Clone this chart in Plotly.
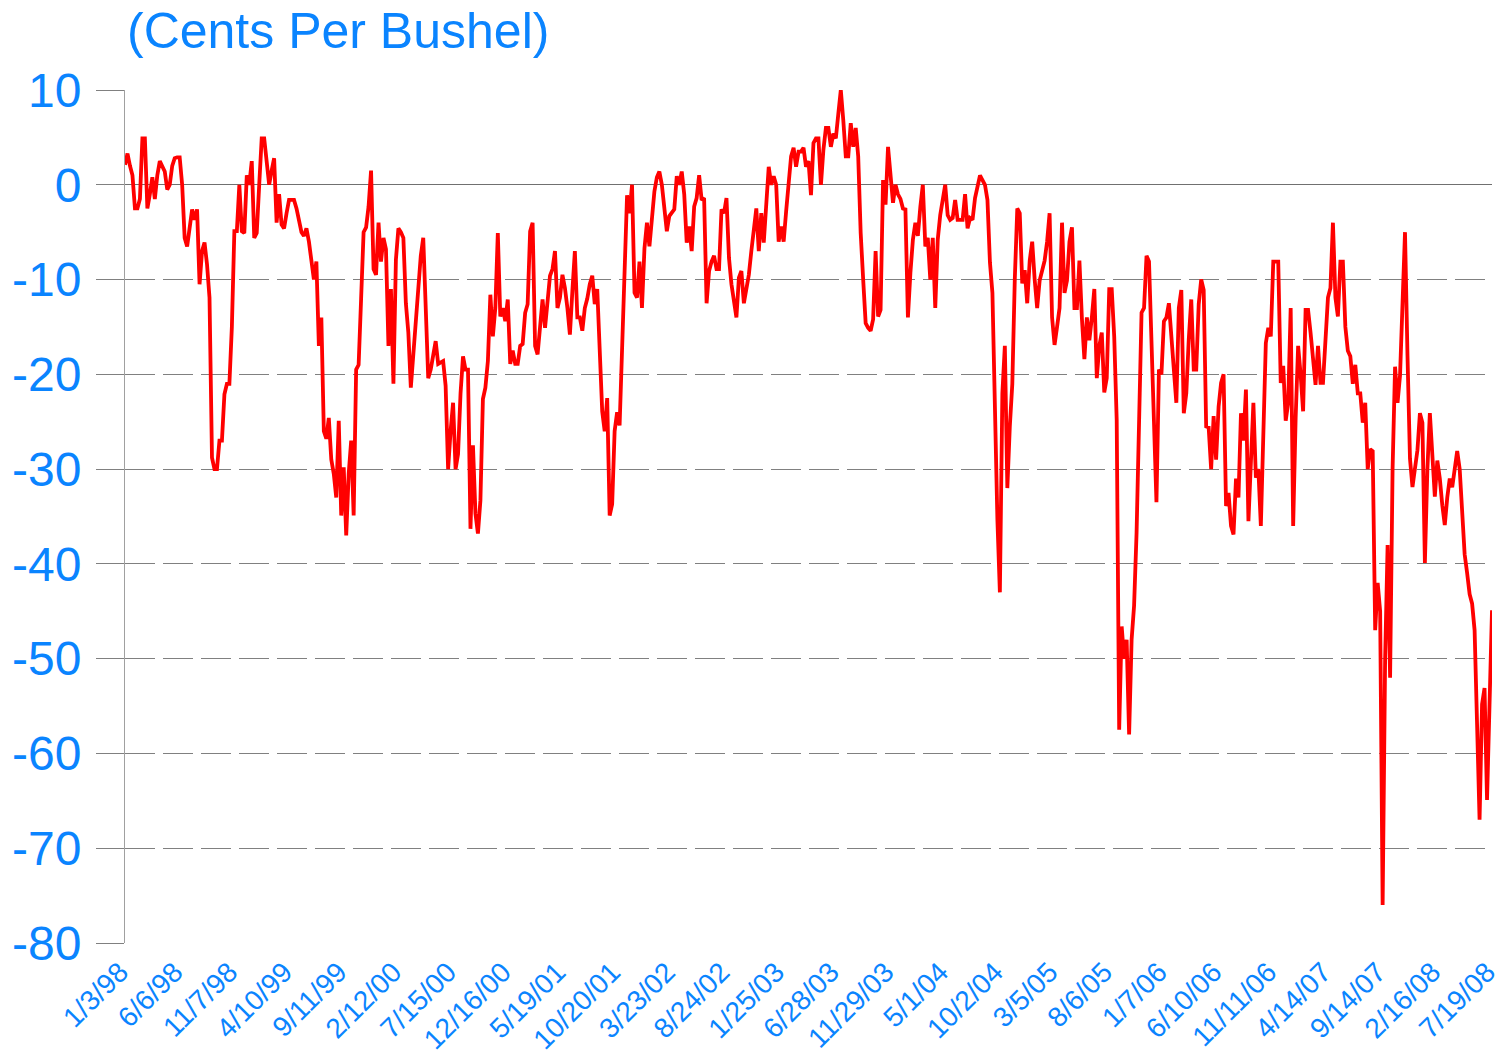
import plotly.graph_objects as go

# Weekly values (cents per bushel), week index 0 = 1/3/98
values = [
    2.1, 3.3, 2, 1, -2.5, -2.5, -1.5, 4.9, 4.9, -2.5,
    -1, 0.8, -1.5, 1, 2.5, 2, 1.4, -0.5, 0, 2,
    2.8, 2.9, 2.9, 0, -5.6, -6.5, -4.2, -2.6, -3.7, -2.6,
    -10.5, -7, -6.1, -8.4, -11.9, -28.8, -30, -30, -27, -27,
    -22.1, -21, -21, -15, -4.9, -4.9, 0, -4.9, -5.1, 1,
    0, 2.5, -5.6, -5.1, 0, 4.9, 4.9, 2, 0, 1.5,
    2.8, -4, -1, -4.2, -4.6, -3, -1.6, -1.6, -1.6, -2.5,
    -3.7, -5, -5.4, -4.6, -6, -8, -10, -8.1, -17, -14,
    -26, -26.8, -24.6, -29, -30.5, -33, -24.9, -34.9, -29.8, -37,
    -30.5, -27, -34.9, -19.5, -19, -12, -5, -4.5, -2.3, 1.5,
    -8.9, -9.5, -4, -8.1, -5.6, -6.8, -17, -11, -21, -7.9,
    -4.6, -5, -5.6, -12.5, -15.6, -21.4, -17.7, -14, -10, -7.5,
    -5.6, -14.2, -20.4, -19.5, -18, -16.5, -18.9, -18.8, -18.6, -21.2,
    -30, -26, -23, -30, -28.4, -22, -18.1, -19.5, -19.5, -36.3,
    -27.5, -34.7, -36.8, -33.3, -22.6, -21.4, -18.6, -11.6, -16, -13,
    -5.1, -13.9, -13, -14.4, -12.1, -18.9, -17.5, -18.9, -18.9, -17,
    -16.8, -13.5, -12.6, -4.9, -4, -17, -17.9, -15, -12.1, -15.1,
    -12, -9.6, -8.9, -7, -13, -11.9, -9.5, -10.9, -13, -15.8,
    -11.2, -7, -14, -14, -15.4, -13, -12, -10.5, -9.6, -12.6,
    -11, -17.9, -23.9, -26, -22.5, -34.9, -33.7, -26, -24, -25.4,
    -17.9, -10, -1.1, -3, 0, -11.4, -11.9, -8.1, -13, -6.7,
    -4, -6.5, -3.9, -0.7, 0.8, 1.4, 0, -2.5, -4.9, -3.3,
    -3, -2.6, 0.9, 0, 1.4, -1, -6.1, -4.4, -7, -2.3,
    -1.4, 1, -1.6, -1.4, -12.5, -9.1, -8.1, -7.5, -8.9, -8.9,
    -2.6, -3, -1.4, -7.7, -10.5, -12, -14, -9.8, -9.1, -12.5,
    -11, -9.5, -7, -5, -2.5, -7, -3, -6.1, -2.6, 1.9,
    0, 0.9, 0, -6, -4.4, -6, -2.8, 0.7, 3, 3.9,
    1.9, 3.5, 3.5, 3.9, 1.9, 2.5, -1.1, 4.4, 4.9, 4.9,
    0, 3.7, 6, 6, 4, 5.4, 4.9, 7.5, 10, 6.8,
    3, 3, 6.5, 4, 6, 3, -5.1, -10, -14.6, -15.1,
    -15.4, -14.2, -7, -13.9, -13.2, 0.5, -2.1, 4, 1, -1.9,
    0, -1, -1.5, -2.5, -2.6, -14, -9.3, -5.8, -4, -5.4,
    -2.3, 0, -6.5, -5.6, -10, -5.6, -13, -5.8, -3.2, -1.8,
    0, -3.2, -3.7, -3.5, -1.6, -3.7, -3.7, -3.7, -1, -4.6,
    -3.5, -3.7, -1.4, -0.4, 1, 0.5, 0, -1.6, -8.2, -11.4,
    -26.1, -35.3, -43, -22, -17, -32, -25.5, -21, -10, -2.5,
    -3, -10.4, -9, -12.5, -8, -6, -10, -13, -10.1, -9,
    -8, -6, -3, -14, -16.9, -15, -13, -4, -11.4, -10.1,
    -6, -4.5, -13, -13, -8, -14.1, -18.4, -14, -16.4, -14,
    -11, -20.4, -17, -15.6, -21.9, -20.4, -11, -11, -16, -24.8,
    -57.5, -46.6, -50, -48, -58, -48, -44.4, -36.7, -25, -13.5,
    -13, -7.5, -8.1, -17.4, -26.2, -33.5, -19.5, -20, -14.4, -14,
    -12.5, -16, -19.8, -23, -13, -11.1, -24.1, -22, -16.3, -12.1,
    -19.5, -19.5, -12.6, -10, -11.1, -25.5, -25.6, -30, -24.4, -29,
    -23.4, -20.9, -20, -33.9, -32.5, -36, -36.9, -31, -33, -24.1,
    -27, -21.6, -35.5, -29.3, -23, -30.9, -30, -36, -25.5, -16.7,
    -15.1, -16, -8.1, -8.1, -8.1, -20.9, -19.1, -24.9, -23, -13,
    -36, -24.6, -17, -20, -23.9, -13.2, -13.2, -15.6, -18.8, -21.1,
    -17, -20.9, -20.9, -16.3, -11.9, -10.9, -4, -11.9, -13.9, -8.1,
    -8.1, -15, -17.5, -18.1, -21, -19, -22, -22, -25.1, -23,
    -30, -27.9, -28.1, -47, -42, -45, -76, -50, -38, -52,
    -30, -19.2, -23, -20.1, -12, -5, -18, -28.9, -31.9, -30,
    -28, -24.1, -25.1, -39.9, -30, -24.1, -28, -32.9, -29.1, -31,
    -33.8, -35.9, -33, -31, -31.9, -30, -28.1, -30, -35, -39,
    -41, -43.2, -44.2, -47, -57, -67, -54.8, -53.1, -64.9, -55,
    -44.9,
]
weeks = list(range(len(values)))

x_tick_labels = ["1/3/98", "6/6/98", "11/7/98", "4/10/99", "9/11/99", "2/12/00",
                 "7/15/00", "12/16/00", "5/19/01", "10/20/01", "3/23/02", "8/24/02",
                 "1/25/03", "6/28/03", "11/29/03", "5/1/04", "10/2/04", "3/5/05",
                 "8/6/05", "1/7/06", "6/10/06", "11/11/06", "4/14/07", "9/14/07",
                 "2/16/08", "7/19/08"]
x_tick_step = 22
y_tick_vals = [10, 0, -10, -20, -30, -40, -50, -60, -70, -80]
y_tick_text = ["10", "0", "-10", "-20", "-30", "-40", "-50", "-60", "-70", "-80"]

BLUE = "#0A84FF"
FONT = "Liberation Sans, Arial, sans-serif"

fig = go.Figure()
fig.add_trace(go.Scatter(x=weeks, y=values, mode="lines",
                         line=dict(color="#FF0000", width=3.8),
                         hoverinfo="skip", showlegend=False, cliponaxis=False))

fig.update_layout(
    width=1501, height=1055,
    margin=dict(l=125, r=9, t=90, b=112, autoexpand=False),
    paper_bgcolor="white", plot_bgcolor="white",
    font=dict(family=FONT, color=BLUE),
    xaxis=dict(
        range=[0, len(values) - 1],
        tickvals=[i * x_tick_step for i in range(len(x_tick_labels))],
        ticktext=x_tick_labels,
        tickangle=-45,
        tickfont=dict(size=28, color=BLUE, family=FONT),
        showgrid=False, zeroline=False, showline=False,
        ticks="", fixedrange=True, automargin=False,
        ticklabeloverflow="allow", ticklabelstandoff=6, ticklabelshift=-5,
    ),
    yaxis=dict(
        range=[-80, 10],
        tickvals=y_tick_vals,
        ticktext=y_tick_text,
        tickfont=dict(size=48, color=BLUE, family=FONT),
        showgrid=True, gridcolor="#808080", gridwidth=1,
        griddash="30px,8px",
        zeroline=True, zerolinecolor="#707070", zerolinewidth=1,
        showline=True, linecolor="#a0a0a0", linewidth=1,
        ticks="outside", ticklen=28, tickcolor="#808080",
        ticklabelstandoff=5,
        fixedrange=True, automargin=False,
    ),
    annotations=[dict(
        text="(Cents Per Bushel)", xref="paper", yref="paper",
        x=0, y=1, xanchor="left", yanchor="middle", yshift=59,
        showarrow=False, font=dict(size=50, color=BLUE, family=FONT),
    )],
)

# remove the default page margin so the figure fills the window exactly
fig.write_html("out.html",
               config={"displayModeBar": False, "staticPlot": True},
               post_script="document.body.style.margin='0';document.body.style.overflow='hidden';")
